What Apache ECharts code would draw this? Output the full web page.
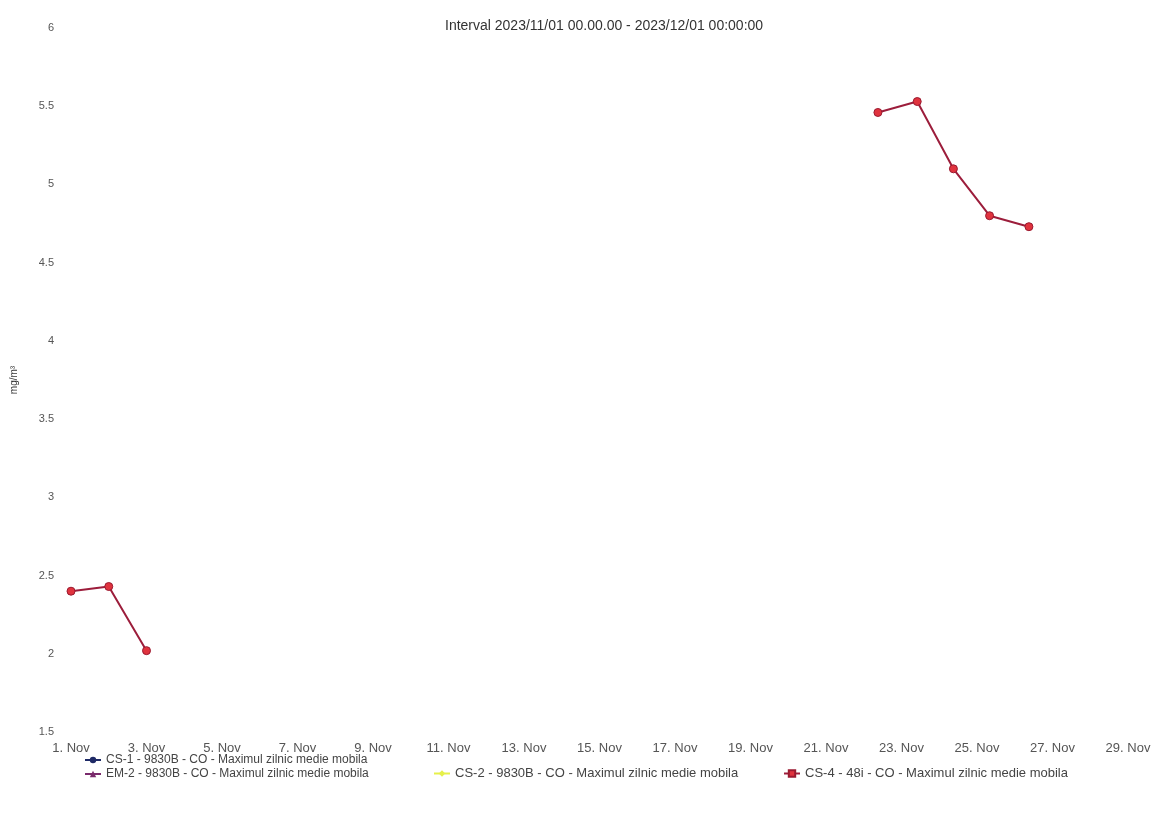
<!DOCTYPE html>
<html>
<head>
<meta charset="utf-8">
<script src="https://cdn.jsdelivr.net/npm/echarts@6/dist/echarts.min.js"></script>
<style>
html,body{margin:0;padding:0;background:#fff;}
#chart{width:1155px;height:815px;}
</style>
</head>
<body>
<div id="chart"></div>
<script>
const chartTitle = 'Interval 2023/11/01 00.00.00 - 2023/12/01 00:00:00';
const yAxisName = 'mg/m³';
const seriesNames = [
  'CS-1 - 9830B - CO - Maximul zilnic medie mobila',
  'EM-2 - 9830B - CO - Maximul zilnic medie mobila',
  'CS-2 - 9830B - CO - Maximul zilnic medie mobila',
  'CS-4 - 48i - CO - Maximul zilnic medie mobila'
];
const seriesColors = ['#1e2a66', '#7a2a6c', '#e6f04a', '#e0333e'];
const seriesSymbols = ['circle', 'triangle', 'diamond', 'rect'];
// CS-4 readings (null = no data, breaks the line)
const cs4Times = ['2023-11-01 00:00', '2023-11-02 00:00', '2023-11-03 00:00', null,
  '2023-11-22 09:00', '2023-11-23 10:00', '2023-11-24 09:00', '2023-11-25 08:00', '2023-11-26 09:00'];
const cs4Values = [2.40, 2.43, 2.02, null, 5.46, 5.53, 5.10, 4.80, 4.73];
const cs1Values = [];
const em2Values = [];
const cs2Values = [];
const xTickLabels = ['1. Nov', '3. Nov', '5. Nov', '7. Nov', '9. Nov', '11. Nov', '13. Nov', '15. Nov',
  '17. Nov', '19. Nov', '21. Nov', '23. Nov', '25. Nov', '27. Nov', '29. Nov'];
const yTicks = { min: 1.5, max: 6, step: 0.5 };

const startMs = Date.parse('2023-11-01T00:00:00Z');
function dayOffset(t) {
  return (Date.parse(t.replace(' ', 'T') + ':00Z') - startMs) / 86400000;
}
const cs4Data = cs4Times.map((t, i) => {
  if (t === null || cs4Values[i] === null) return ['-', '-'];
  return { value: [dayOffset(t), cs4Values[i]], symbol: 'circle' };
});

const chart = echarts.init(document.getElementById('chart'), null, { renderer: 'canvas' });
const textFont = '"Liberation Sans", Arial, sans-serif';

function legendAt(name, left, top, size) {
  return {
    data: [name], left: left, top: top, orient: 'horizontal',
    itemWidth: 16, itemHeight: 8, itemGap: 10, padding: 0,
    textStyle: { fontSize: size, color: '#444', fontFamily: textFont }
  };
}

const emptyData = [cs1Values, em2Values, cs2Values];
const series = emptyData.map((vals, i) => ({
  name: seriesNames[i], type: 'line', data: vals,
  symbol: seriesSymbols[i], symbolSize: 7,
  itemStyle: { color: seriesColors[i] }, lineStyle: { color: seriesColors[i], width: 2 }
}));
series.push({
  name: seriesNames[3], type: 'line', data: cs4Data, connectNulls: false,
  symbol: seriesSymbols[3], symbolSize: 8, showAllSymbol: true,
  itemStyle: { color: seriesColors[3], borderColor: '#9a1a30', borderWidth: 1 },
  lineStyle: { color: '#9c1d3b', width: 2 },
  emphasis: { disabled: true }
});

chart.setOption({
  animation: false,
  backgroundColor: '#ffffff',
  title: {
    text: chartTitle, left: 445, top: 19, padding: 0,
    textStyle: { fontSize: 14, fontWeight: 'normal', color: '#333', fontFamily: textFont }
  },
  legend: [
    legendAt(seriesNames[0], 84, 754, 12),
    legendAt(seriesNames[1], 84, 768, 12),
    legendAt(seriesNames[2], 433, 767, 13),
    legendAt(seriesNames[3], 783, 767, 13)
  ],
  grid: { left: 71, right: 27, top: 28, bottom: 83, containLabel: false },
  xAxis: {
    type: 'value', min: 0, max: (xTickLabels.length - 1) * 2, interval: 2,
    axisLine: { show: false }, axisTick: { show: false }, splitLine: { show: false },
    axisLabel: {
      margin: 10, fontSize: 13, color: '#555', fontFamily: textFont,
      formatter: v => xTickLabels[Math.round(v / 2)] || ''
    }
  },
  yAxis: {
    type: 'value', min: yTicks.min, max: yTicks.max, interval: yTicks.step,
    name: yAxisName, nameLocation: 'middle', nameGap: 52, nameRotate: 90,
    nameTextStyle: { fontSize: 10, color: '#333', fontFamily: textFont },
    axisLine: { show: false }, axisTick: { show: false }, splitLine: { show: false },
    axisLabel: { margin: 17, fontSize: 11, color: '#555', fontFamily: textFont }
  },
  series: series
});
</script>
</body>
</html>
